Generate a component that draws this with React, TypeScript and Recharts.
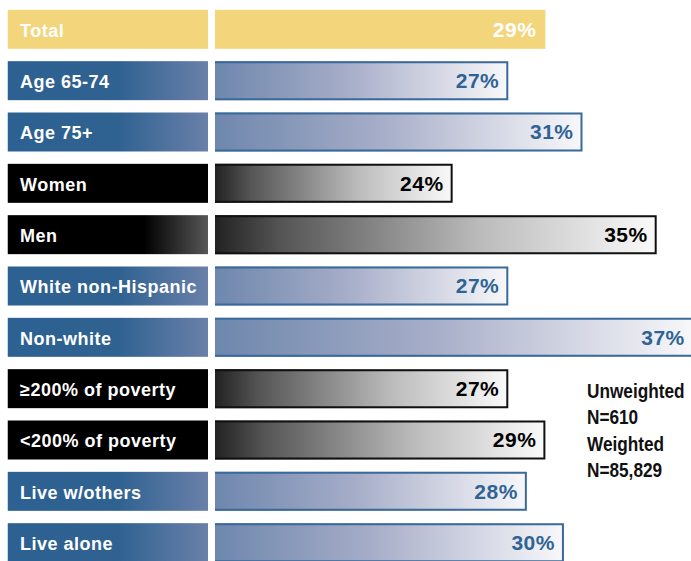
import React from "react";
import { BarChart, Bar, XAxis, YAxis } from "recharts";

const categories = [
  "Total",
  "Age 65-74",
  "Age 75+",
  "Women",
  "Men",
  "White non-Hispanic",
  "Non-white",
  "≥200% of poverty",
  "<200% of poverty",
  "Live w/others",
  "Live alone",
];
const values = [29, 27, 31, 24, 35, 27, 37, 27, 29, 28, 30];
const groups = ["all", "age", "age", "sex", "sex", "race", "race", "income", "income", "living", "living"];
const sampleNotes = ["Unweighted", "N=610", "Weighted", "N=85,829"];

const data = categories.map((name, i) => ({ name, value: values[i], group: groups[i] }));

const FONT = "'Liberation Sans', Arial, Helvetica, sans-serif";

const groupTheme: Record<string, string> = {
  all: "total",
  age: "blue",
  race: "blue",
  living: "blue",
  sex: "black",
  income: "black",
};

const THEMES: Record<string, any> = {
  total: { box: "#F3D57C", bar: "#F3D57C", text: "#FFFFFF", border: null },
  blue: { box: "url(#boxBlue)", bar: "url(#barBlue)", text: "#2F6395", border: "#3A6A9A" },
  black: { box: "#000000", bar: "url(#barBlack)", text: "#000000", border: "#111111" },
};

const fadedBoxes: Record<string, boolean> = { Men: true };

function RowShape(props: any) {
  const { x, y, width, height } = props;
  const p = props.payload || props;
  const theme = THEMES[groupTheme[p.group]];
  const boxRight = x + 200.5;
  const barLeft = x + 207.5;
  const end = x + width;
  const boxFill = fadedBoxes[p.name] ? "url(#boxBlackFade)" : theme.box;
  const mid = y + height / 2;
  return (
    <g>
      <rect x={x} y={y} width={boxRight - x} height={height} fill={boxFill} />
      <text
        x={x + 12.5}
        y={mid + 7.5}
        fill="#FFFFFF"
        fontFamily={FONT}
        fontWeight="bold"
        fontSize={18}
        letterSpacing={0.5}
      >
        {p.name}
      </text>
      <rect x={barLeft} y={y} width={end - barLeft} height={height} fill={theme.bar} />
      {theme.border && (
        <path
          d={`M${barLeft},${y + 1} L${end - 1},${y + 1} L${end - 1},${y + height - 1} L${barLeft},${y + height - 1}`}
          fill="none"
          stroke={theme.border}
          strokeWidth={2}
        />
      )}
      <text
        x={end - 9}
        y={mid + 7.5}
        textAnchor="end"
        fill={theme.text}
        fontFamily={FONT}
        fontWeight="bold"
        fontSize={21}
        letterSpacing={0.5}
      >
        {`${p.value}%`}
      </text>
    </g>
  );
}

export default function App() {
  return (
    <div style={{ position: "absolute", left: 0, top: 0, width: 691, height: 561, background: "#FFFFFF" }}>
      <BarChart
        width={691}
        height={561}
        data={data}
        layout="vertical"
        margin={{ top: 3.83, right: 0, bottom: -7.5, left: 7.5 }}
      >
        <defs>
          <linearGradient id="boxBlue" x1="0" y1="0" x2="1" y2="0">
            <stop offset="0" stopColor="#2D6191" />
            <stop offset="0.55" stopColor="#2F6291" />
            <stop offset="1" stopColor="#6A80A9" />
          </linearGradient>
          <linearGradient id="boxBlackFade" x1="0" y1="0" x2="1" y2="0">
            <stop offset="0" stopColor="#000000" />
            <stop offset="0.68" stopColor="#000000" />
            <stop offset="1" stopColor="#575757" />
          </linearGradient>
          <linearGradient id="barBlue" x1="0" y1="0" x2="1" y2="0">
            <stop offset="0" stopColor="#6E87AD" />
            <stop offset="0.45" stopColor="#A6ADC8" />
            <stop offset="1" stopColor="#F8F8FA" />
          </linearGradient>
          <linearGradient id="barBlack" x1="0" y1="0" x2="1" y2="0">
            <stop offset="0" stopColor="#222222" />
            <stop offset="0.15" stopColor="#555555" />
            <stop offset="0.6" stopColor="#BBBBBB" />
            <stop offset="1" stopColor="#FAFAFA" />
          </linearGradient>
        </defs>
        <XAxis type="number" domain={[0, 36.85]} allowDataOverflow hide />
        <YAxis type="category" dataKey="name" hide />
        <Bar dataKey="value" barSize={39} isAnimationActive={false} shape={(props: any) => <RowShape {...props} />} />
      </BarChart>
      <svg
        width={691}
        height={561}
        style={{ position: "absolute", left: 0, top: 0, pointerEvents: "none" }}
      >
        <g transform="translate(587,398) scale(0.82,1)">
          <text x={0} y={0} fontFamily={FONT} fontWeight="bold" fontSize={21} fill="#111111">
            {sampleNotes.map((line, i) => (
              <tspan key={line} x={0} dy={i === 0 ? 0 : 26.5}>
                {line}
              </tspan>
            ))}
          </text>
        </g>
      </svg>
    </div>
  );
}
